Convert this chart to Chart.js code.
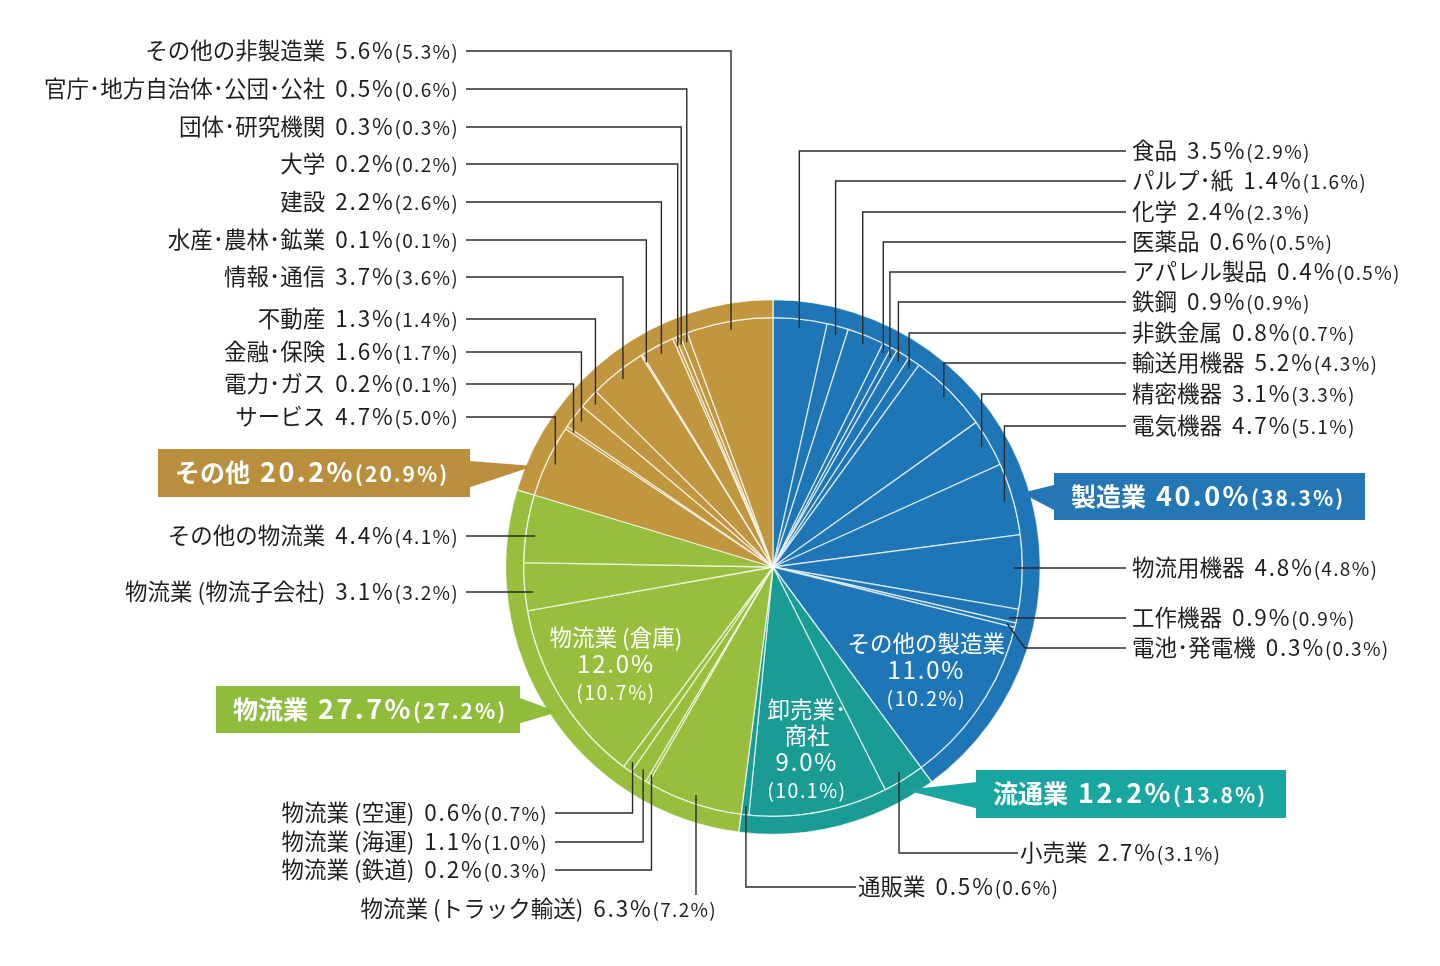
<!DOCTYPE html>
<html lang="ja">
<head>
<meta charset="utf-8">
<style>
html, body { margin: 0; padding: 0; background: #fff; }
#wrap { position: relative; width: 1440px; height: 966px; }
</style>
<script src="https://cdn.jsdelivr.net/npm/chart.js@4.4.1/dist/chart.umd.min.js"></script>
</head>
<body>
<div id="wrap"><canvas id="myChart" width="1440" height="966"></canvas></div>
<script>
// groups (outer band)
const groupNames = ["製造業", "流通業", "物流業", "その他"];
const groupValues = [40.0, 12.2, 27.7, 20.2];
const groupPrev = [38.3, 13.8, 27.2, 20.9];

// slices, clockwise from the top
const sliceNames = [
    "食品", "パルプ･紙", "化学", "医薬品", "アパレル製品", "鉄鋼", "非鉄金属",
    "輸送用機器", "精密機器", "電気機器", "物流用機器", "工作機器", "電池･発電機", "その他の製造業",
    "小売業", "卸売業･商社", "通販業",
    "物流業 (トラック輸送)", "物流業 (鉄道)", "物流業 (海運)", "物流業 (空運)",
    "物流業 (倉庫)", "物流業 (物流子会社)", "その他の物流業",
    "サービス", "電力･ガス", "金融･保険", "不動産", "情報･通信", "水産･農林･鉱業",
    "建設", "大学", "団体･研究機関", "官庁･地方自治体･公団･公社", "その他の非製造業"
];
const sliceValues = [
    3.5, 1.4, 2.4, 0.6, 0.4, 0.9, 0.8, 5.2, 3.1, 4.7, 4.8, 0.9, 0.3, 11.0,
    2.7, 9.0, 0.5,
    6.3, 0.2, 1.1, 0.6, 12.0, 3.1, 4.4,
    4.7, 0.2, 1.6, 1.3, 3.7, 0.1, 2.2, 0.2, 0.3, 0.5, 5.6
];
const slicePrev = [
    2.9, 1.6, 2.3, 0.5, 0.5, 0.9, 0.7, 4.3, 3.3, 5.1, 4.8, 0.9, 0.3, 10.2,
    3.1, 10.1, 0.6,
    7.2, 0.3, 1.0, 0.7, 10.7, 3.2, 4.1,
    5.0, 0.1, 1.7, 1.4, 3.6, 0.1, 2.6, 0.2, 0.3, 0.6, 5.3
];
const sliceGroup = [
    0, 0, 0, 0, 0, 0, 0, 0, 0, 0, 0, 0, 0, 0,
    1, 1, 1,
    2, 2, 2, 2, 2, 2, 2,
    3, 3, 3, 3, 3, 3, 3, 3, 3, 3, 3
];
// slices whose label sits inside the pie
const innerLabelLines = {13: ["その他の製造業"], 15: ["卸売業･", "商社"], 21: ["物流業 (倉庫)"]};

// styling / layout
const pieColors = ["#1f76b6", "#1a9c95", "#97be3d", "#c0963f"];
const boxColors = ["#2477b4", "#1aa6a0", "#8fbc3b", "#b98f3d"];
// [kind, label y, text x]
const labelPos = [
    ["R", 151], ["R", 181], ["R", 212], ["R", 242], ["R", 272], ["R", 302], ["R", 333],
    ["R", 363], ["R", 394], ["R", 426], ["Rh", 568], ["Rh", 618], ["Rd", 648], null,
    ["B", 853, 1020], null, ["B", 887, 858],
    ["V", 909, 717], ["BL", 870], ["BL", 842], ["BL", 813], null, ["Lh", 592], ["Lh", 536],
    ["L", 417], ["L", 384], ["L", 352], ["L", 319], ["L", 277], ["L", 240],
    ["L", 202], ["L", 164], ["L", 127], ["L", 89], ["L", 51]
];
// [x, y, w, h, tip y]
const boxPos = [
    [1054, 473, 311, 47, 493],
    [976, 770, 310, 48, 790],
    [216, 686, 304, 47, 712],
    [158, 449, 312, 48, 466]
];

const FONT = '"Noto Sans CJK JP", "Noto Sans", sans-serif';

// the outer band is the sum of its slices so both rings line up
const ringValues = groupNames.map((g, gi) =>
    sliceValues.reduce((s, v, i) => (sliceGroup[i] === gi ? s + v : s), 0));

function pct(v) {
    return v.toFixed(1) + "%";
}

function drawParts(ctx, parts, x, y, align) {
    let total = 0;
    parts.forEach((p) => {
        ctx.font = p.font;
        ctx.letterSpacing = p.ls || "0px";
        p.w = ctx.measureText(p.t).width + (p.gap || 0);
        total += p.w;
    });
    let cx = x;
    if (align === "right") cx = x - total;
    if (align === "center") cx = x - total / 2;
    ctx.textAlign = "left";
    ctx.textBaseline = "alphabetic";
    parts.forEach((p) => {
        ctx.font = p.font;
        ctx.letterSpacing = p.ls || "0px";
        ctx.fillText(p.t, cx, y);
        cx += p.w;
    });
    ctx.letterSpacing = "0px";
}

function labelParts(i) {
    return [
        {t: sliceNames[i], font: "22.5px " + FONT, gap: 10},
        {t: pct(sliceValues[i]), font: "22.5px " + FONT, ls: "1.8px"},
        {t: "(" + pct(slicePrev[i]) + ")", font: "19px " + FONT, ls: "1.3px"}
    ];
}

const labelPlugin = {
    id: "labels",
    afterDatasetsDraw(chart) {
        const ctx = chart.ctx;
        const ring = chart.getDatasetMeta(0).data;
        const arcs = chart.getDatasetMeta(1).data;
        const cx = arcs[0].x;
        const cy = arcs[0].y;
        const R = ring[0].outerRadius;
        const rIn = arcs[0].outerRadius;

        ctx.save();
        // leader lines + outside labels
        arcs.forEach((arc, i) => {
            const lp = labelPos[i];
            if (!lp) return;
            const mid = (arc.startAngle + arc.endAngle) / 2;
            const ax = cx + Math.cos(mid) * R * 0.9;
            const ay = cy + Math.sin(mid) * R * 0.9;
            const kind = lp[0];
            const y = lp[1];
            ctx.strokeStyle = "#2a2a2a";
            ctx.lineWidth = 1.4;
            ctx.beginPath();
            ctx.fillStyle = "#1e1e1e";
            if (kind === "R") {
                ctx.moveTo(ax, ay); ctx.lineTo(ax, y); ctx.lineTo(1126, y);
                ctx.stroke();
                drawParts(ctx, labelParts(i), 1132, y + 8, "left");
            } else if (kind === "Rh") {
                ctx.moveTo(ax, y); ctx.lineTo(1126, y);
                ctx.stroke();
                drawParts(ctx, labelParts(i), 1132, y + 8, "left");
            } else if (kind === "Rd") {
                ctx.moveTo(ax, ay); ctx.lineTo(ax + 18, y); ctx.lineTo(1126, y);
                ctx.stroke();
                drawParts(ctx, labelParts(i), 1132, y + 8, "left");
            } else if (kind === "B") {
                ctx.moveTo(ax, ay); ctx.lineTo(ax, y); ctx.lineTo(lp[2] - 2, y);
                ctx.stroke();
                drawParts(ctx, labelParts(i), lp[2], y + 8, "left");
            } else if (kind === "V") {
                ctx.moveTo(ax, ay); ctx.lineTo(ax, y - 14);
                ctx.stroke();
                drawParts(ctx, labelParts(i), lp[2], y + 8, "right");
            } else if (kind === "BL") {
                ctx.moveTo(ax, ay); ctx.lineTo(ax, y); ctx.lineTo(555, y);
                ctx.stroke();
                drawParts(ctx, labelParts(i), 548, y + 8, "right");
            } else if (kind === "L") {
                ctx.moveTo(ax, ay); ctx.lineTo(ax, y); ctx.lineTo(466, y);
                ctx.stroke();
                drawParts(ctx, labelParts(i), 459, y + 8, "right");
            } else if (kind === "Lh") {
                ctx.moveTo(ax, y); ctx.lineTo(466, y);
                ctx.stroke();
                drawParts(ctx, labelParts(i), 459, y + 8, "right");
            }
        });

        // labels inside the pie
        ctx.fillStyle = "#ffffff";
        Object.keys(innerLabelLines).forEach((k) => {
            const i = Number(k);
            const arc = arcs[i];
            const mid = (arc.startAngle + arc.endAngle) / 2;
            const px = cx + Math.cos(mid) * rIn * 0.74;
            const py = cy + Math.sin(mid) * rIn * 0.74;
            const lines = innerLabelLines[i];
            const rows = lines.length + 2;
            let y = py - ((rows - 1) * 26.5) / 2 + 9;
            lines.forEach((t) => {
                drawParts(ctx, [{t: t, font: "22.5px " + FONT}], px, y, "center");
                y += 26.5;
            });
            drawParts(ctx, [{t: pct(sliceValues[i]), font: "24px " + FONT, ls: "1.8px"}], px, y, "center");
            y += 27;
            drawParts(ctx, [{t: "(" + pct(slicePrev[i]) + ")", font: "19.5px " + FONT, ls: "1.5px"}], px, y, "center");
        });

        // group call-out boxes
        groupNames.forEach((g, gi) => {
            const [bx, by, bw, bh, ty] = boxPos[gi];
            const dy = ty - cy;
            const rt = R - 8;
            const right = bx > cx;
            const tx = right ? cx + Math.sqrt(rt * rt - dy * dy) : cx - Math.sqrt(rt * rt - dy * dy);
            ctx.fillStyle = boxColors[gi];
            ctx.fillRect(bx, by, bw, bh);
            ctx.beginPath();
            const ex = right ? bx + 1 : bx + bw - 1;
            ctx.moveTo(ex, by + bh * 0.25);
            ctx.lineTo(tx, ty);
            ctx.lineTo(ex, by + bh * 0.8);
            ctx.closePath();
            ctx.fill();
            ctx.fillStyle = "#ffffff";
            drawParts(ctx, [
                {t: g, font: "bold 25px " + FONT, gap: 10},
                {t: pct(groupValues[gi]), font: "bold 27px " + FONT, ls: "2.5px"},
                {t: "(" + pct(groupPrev[gi]) + ")", font: "bold 21px " + FONT, ls: "2px"}
            ], bx + 17, by + bh / 2 + 9, "left");
        });
        ctx.restore();
    }
};

const config = {
    type: "pie",
    data: {
        labels: sliceNames,
        datasets: [
            {
                label: "group",
                data: ringValues,
                backgroundColor: pieColors,
                borderColor: "rgba(255,255,255,0.75)",
                borderWidth: 1.3,
                weight: 18
            },
            {
                label: "detail",
                data: sliceValues,
                backgroundColor: sliceGroup.map((g) => pieColors[g]),
                borderColor: "rgba(255,255,255,0.7)",
                borderWidth: 1.3,
                weight: 250
            }
        ]
    },
    options: {
        responsive: false,
        animation: false,
        layout: {padding: {left: 505, top: 299, right: 399, bottom: 131}},
        plugins: {legend: {display: false}, tooltip: {enabled: false}}
    },
    plugins: [labelPlugin]
};

var myChart = new Chart(document.getElementById("myChart"), config);
</script>
</body>
</html>
